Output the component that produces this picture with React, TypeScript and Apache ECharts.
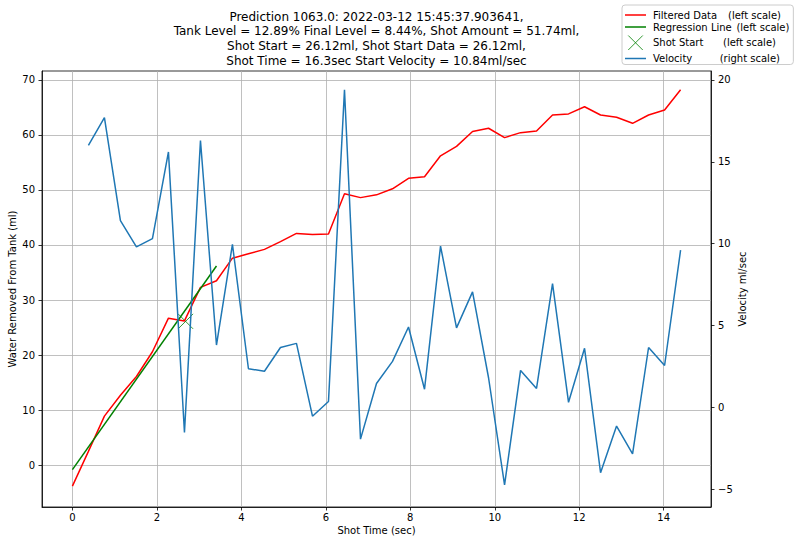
import React, { useEffect, useRef } from 'react';
import * as echarts from 'echarts';

const titleLines = [
  'Prediction 1063.0: 2022-03-12 15:45:37.903641,',
  'Tank Level = 12.89% Final Level = 8.44%, Shot Amount = 51.74ml,',
  'Shot Start = 26.12ml, Shot Start Data = 26.12ml,',
  'Shot Time = 16.3sec Start Velocity = 10.84ml/sec',
];

const shotTime = [
  0, 0.379, 0.758, 1.137, 1.516, 1.895, 2.274, 2.653, 3.032, 3.411,
  3.789, 4.168, 4.547, 4.926, 5.305, 5.684, 6.063, 6.442, 6.821, 7.2,
  7.579, 7.958, 8.337, 8.716, 9.095, 9.474, 9.853, 10.232, 10.611, 10.989,
  11.368, 11.747, 12.126, 12.505, 12.884, 13.263, 13.642, 14.021, 14.4,
];

const filteredData = [
  -3.8, 2.5, 8.9, 12.7, 16.1, 20.6, 26.7, 26.2, 32.3, 33.5,
  37.6, 38.4, 39.2, 40.6, 42.1, 41.9, 42.0, 49.3, 48.6, 49.1,
  50.2, 52.1, 52.4, 56.2, 57.9, 60.6, 61.2, 59.5, 60.4, 60.7,
  63.6, 63.8, 65.1, 63.6, 63.2, 62.1, 63.6, 64.5, 68.2,
];

// velocity has no value at the first time point
const velocity = [
  null, 16.0, 17.7, 11.4, 9.8, 10.3, 15.6, -1.55, 16.3, 3.8,
  9.95, 2.35, 2.2, 3.65, 3.9, -0.55, 0.35, 19.4, -1.95, 1.45,
  2.8, 4.9, 1.1, 9.85, 4.85, 7.05, 1.8, -4.75, 2.25, 1.15,
  7.55, 0.3, 3.6, -4.0, -1.15, -2.85, 3.65, 2.55, 9.6,
];

const regressionTime = [0, 3.411];
const regressionValue = [-0.8, 36.18];

const shotStartTime = [2.68];
const shotStartValue = [26.12];

const xTicks = [0, 2, 4, 6, 8, 10, 12, 14];
const leftTicks = [0, 10, 20, 30, 40, 50, 60, 70];
const rightTicks = [-5, 0, 5, 10, 15, 20];

const legendParts: Record<string, [string, string]> = {
  'Filtered Data': ['Filtered Data', '(left scale)'],
  'Regression Line': ['Regression Line', '(left scale)'],
  'Shot Start': ['Shot Start', '(left scale)'],
  Velocity: ['Velocity', '(right scale)'],
};
const legendOrder = ['Filtered Data', 'Regression Line', 'Shot Start', 'Velocity'];

const FONT = 'DejaVu Sans';
const LINE_ICON = 'path://M0,0H21V1.5H0Z';
const X_ICON = 'path://M0,0L10,10M10,0L0,10';

export default function App() {
  const ref = useRef<HTMLDivElement>(null);

  useEffect(() => {
    if (!ref.current) return;
    const chart = echarts.init(ref.current, undefined, { renderer: 'svg' });

    const filteredPairs = shotTime.map((t, i) => [t, filteredData[i]]);
    const velocityPairs = shotTime
      .map((t, i) => [t, velocity[i]])
      .filter((p) => p[1] !== null);
    const regressionPairs = regressionTime.map((t, i) => [t, regressionValue[i]]);
    const shotPairs = shotStartTime.map((t, i) => [t, shotStartValue[i]]);

    const nameWidths = [75, 83.4, 70, 66.7];
    const rich: any = { g: { width: 2, fontSize: 10, lineHeight: 12, fontFamily: FONT } };
    nameWidths.forEach((w, i) => {
      rich['a' + i] = { width: w, fontSize: 10, lineHeight: 12, fontFamily: FONT, color: '#000' };
      rich['b' + i] = { width: 128 - w, fontSize: 10, lineHeight: 12, fontFamily: FONT, color: '#000' };
    });

    const axisText = { fontFamily: FONT, fontSize: 10, color: '#000' };
    const minus = (v: number) => String(v).replace('-', '\u2212');

    chart.setOption({
      animation: false,
      backgroundColor: '#ffffff',
      textStyle: { fontFamily: FONT },
      title: {
        text: titleLines.join('\n'),
        left: 376.5,
        top: 9.2,
        padding: 0,
        textAlign: 'center',
        textStyle: {
          fontFamily: FONT,
          fontSize: 12,
          fontWeight: 'normal',
          color: '#000',
          lineHeight: 14.7,
        },
      },
      legend: {
        orient: 'vertical',
        left: 622,
        top: 5,
        padding: [4, 4, 0, 3],
        itemWidth: 21,
        itemHeight: 14.5,
        itemGap: 0,
        backgroundColor: 'rgba(255,255,255,0.8)',
        borderColor: '#cccccc',
        borderWidth: 1,
        borderRadius: 3,
        selectedMode: false,
        data: [
          { name: 'Filtered Data', icon: LINE_ICON, itemStyle: { color: '#ff0000' } },
          { name: 'Regression Line', icon: LINE_ICON, itemStyle: { color: '#008000' } },
          {
            name: 'Shot Start',
            icon: X_ICON,
            itemStyle: { color: 'none', borderColor: '#008000', borderWidth: 1 },
          },
          { name: 'Velocity', icon: LINE_ICON, itemStyle: { color: '#1f77b4' } },
        ],
        formatter: (name: string) => {
          const i = legendOrder.indexOf(name);
          const [a, b] = legendParts[name];
          return `{g| }{a${i}|${a}}{b${i}|${b}}`;
        },
        textStyle: { fontFamily: FONT, fontSize: 10, lineHeight: 12, color: '#000', rich },
      },
      grid: {
        left: 42,
        right: 88,
        top: 71,
        bottom: 37,
        show: true,
        borderColor: '#000',
        borderWidth: 0.8,
        backgroundColor: 'transparent',
        containLabel: false,
        outerBoundsMode: 'none',
      },
      xAxis: {
        type: 'value',
        min: -0.72,
        max: 15.12,
        name: 'Shot Time (sec)',
        nameLocation: 'middle',
        nameGap: 18,
        nameMoveOverlap: false,
        nameTextStyle: axisText,
        axisLine: { show: true, onZero: false, lineStyle: { color: '#000', width: 0.8 } },
        axisTick: { show: true, length: 3.5, customValues: xTicks, lineStyle: { color: '#000', width: 0.8 } },
        axisLabel: { ...axisText, margin: 5, customValues: xTicks, formatter: (v: number) => minus(v) },
        splitLine: { show: true, lineStyle: { color: '#b0b0b0', width: 0.8 } },
      },
      yAxis: [
        {
          type: 'value',
          position: 'left',
          min: -7.6,
          max: 71.6,
          name: 'Water Removed From Tank (ml)',
          nameLocation: 'middle',
          nameRotate: 90,
          nameGap: 25,
          nameMoveOverlap: false,
          nameTextStyle: axisText,
          axisLine: { show: true, onZero: false, lineStyle: { color: '#000', width: 0.8 } },
          axisTick: { show: true, length: 3.5, customValues: leftTicks, lineStyle: { color: '#000', width: 0.8 } },
          axisLabel: { ...axisText, margin: 7, customValues: leftTicks, formatter: (v: number) => minus(v) },
          splitLine: { show: true, lineStyle: { color: '#b0b0b0', width: 0.8 } },
        },
        {
          type: 'value',
          position: 'right',
          min: -6.1,
          max: 20.55,
          name: 'Velocity ml/sec',
          nameLocation: 'middle',
          nameRotate: 90,
          nameGap: 26,
          nameMoveOverlap: false,
          nameTextStyle: axisText,
          axisLine: { show: true, onZero: false, lineStyle: { color: '#000', width: 0.8 } },
          axisTick: { show: true, length: 3.5, customValues: rightTicks, lineStyle: { color: '#000', width: 0.8 } },
          axisLabel: { ...axisText, margin: 7, customValues: rightTicks, formatter: (v: number) => minus(v) },
          splitLine: { show: false },
        },
      ],
      series: [
        {
          name: 'Filtered Data',
          type: 'line',
          yAxisIndex: 0,
          data: filteredPairs,
          symbol: 'none',
          color: '#ff0000',
          lineStyle: { color: '#ff0000', width: 1.5 },
        },
        {
          name: 'Regression Line',
          type: 'line',
          yAxisIndex: 0,
          data: regressionPairs,
          symbol: 'none',
          color: '#008000',
          lineStyle: { color: '#008000', width: 1.5 },
        },
        {
          name: 'Shot Start',
          type: 'scatter',
          yAxisIndex: 0,
          data: shotPairs,
          symbol: X_ICON,
          symbolSize: 15,
          color: '#008000',
          itemStyle: { color: 'none', borderColor: '#008000', borderWidth: 1 },
        },
        {
          name: 'Velocity',
          type: 'line',
          yAxisIndex: 1,
          data: velocityPairs,
          symbol: 'none',
          color: '#1f77b4',
          lineStyle: { color: '#1f77b4', width: 1.5 },
        },
      ],
    });

    return () => chart.dispose();
  }, []);

  return (
    <div
      ref={ref}
      style={{ position: 'absolute', left: 0, top: 0, width: 799, height: 544 }}
    />
  );
}
